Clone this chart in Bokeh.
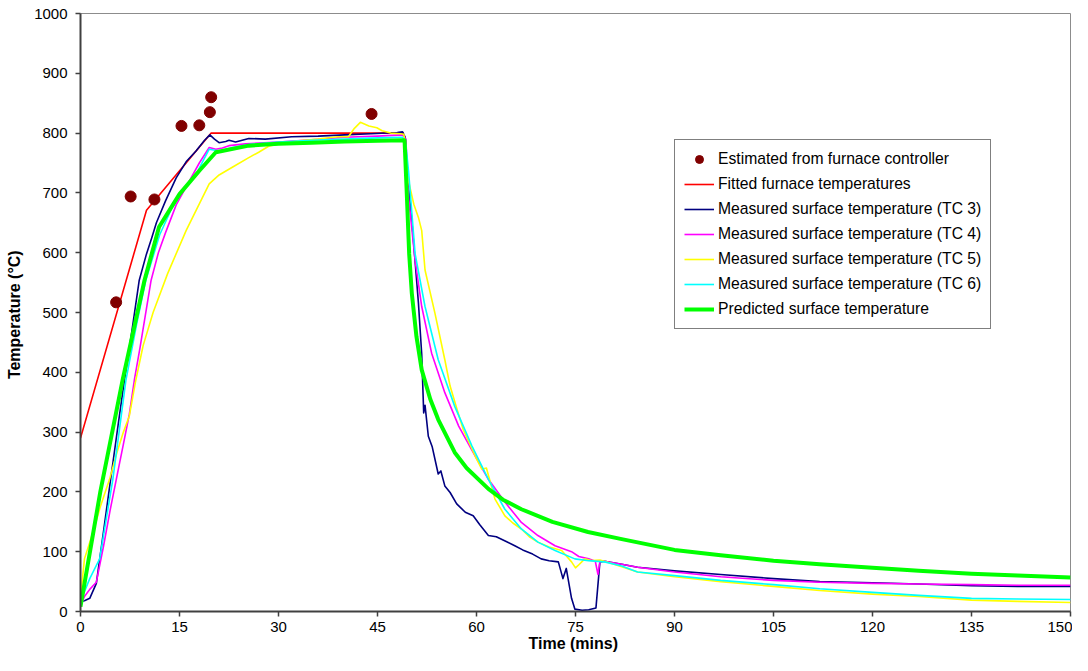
from bokeh.plotting import figure
from bokeh.models import Range1d, FixedTicker, Legend, LegendItem
from bokeh.embed import file_html
from bokeh.resources import INLINE

# ---------------- data ----------------
est_t = [5.4, 7.6, 11.2, 15.3, 18.0, 19.6, 19.8, 44.1]
est_T = [517, 694, 689, 812, 813, 835, 860, 832]

fit_t = [0, 10, 19.8, 49]
fit_T = [290, 671, 800, 800]

tc3_t = [0, 0.6, 1.4, 2.4, 3.5, 4.7, 5.9, 6.7, 7.8, 8.9, 10, 10.8, 11.5, 12.9, 14.5, 16, 17.5,
         18.8, 19.6, 20.3, 21, 22, 22.5, 23.5, 25.5, 28, 32, 36, 40, 44, 48, 48.8, 49.2,
         49.6, 50.2, 51.2, 51.7, 52.0, 52.2, 52.7, 53.3, 54.2, 54.6, 55.2, 56, 57, 58.3, 59.5,
         60.5, 61.8, 63, 64.5, 65.8, 67, 68.5, 69.8, 71, 72.4, 73.1, 73.6, 74.4, 74.9, 76, 77,
         78.1, 78.7, 79.4, 82, 84.4, 90, 97, 105, 112, 120, 127, 135, 142, 150]
tc3_T = [17, 18, 22, 47, 135, 232, 328, 390, 470, 554, 598, 625, 650, 687, 725, 752, 770,
         788, 797, 790, 784, 786, 788, 785, 791, 790, 794, 795, 797, 799, 801, 802, 793,
         720, 654, 516, 430, 332, 345, 293, 275, 230, 235, 210, 199, 180, 166, 160,
         145, 127, 125, 117, 110, 103, 96, 88, 85, 83, 55, 72, 22, 4, 2, 3,
         6, 83, 84, 79, 74, 68, 62, 55, 50, 48, 46, 43, 42, 42]

tc4_t = [0, 0.6, 1.4, 2.4, 3.5, 4.5, 5.5, 6.5, 7.4, 8.2, 9, 10.7, 11.8, 12.9, 14.5, 16.5, 18,
         19.5, 20.5, 21.5, 22.5, 25, 30, 35, 40, 45, 48.8, 49.3,
         49.7, 50.7, 51.7, 53.2, 55.2, 57.3, 59.8, 61.8, 64.3, 66.8, 69.3, 71.9, 74.4, 75.5,
         77, 78, 78.4, 78.7, 79.4, 82, 84.4, 90, 97, 105, 112, 120, 127, 135, 142, 150]
tc4_T = [11, 25, 37, 49, 110, 170, 225, 280, 330, 390, 440, 554, 600, 634, 680, 720, 750,
         776, 773, 775, 779, 782, 785, 789, 793, 795, 797, 790,
         693, 587, 510, 432, 366, 310, 260, 221, 183, 149, 127, 110, 100, 92,
         88, 84, 62, 84, 84, 79, 74, 66, 58, 52, 49, 47, 46, 45, 44, 44]

tc5_t = [0, 0.1, 0.6, 1.9, 3, 4.4, 5.5, 6.5, 7.4, 8.4, 9.5, 11, 13.2, 16, 19.5, 21, 23, 25.5,
         27, 28.5, 30, 33, 36, 39, 40.6, 41.5, 42.4, 43.7, 44.9, 45.7, 47, 48.5, 49,
         49.3, 49.7, 50.5, 51.2, 51.7, 52.2, 53.7, 55.2, 56, 57, 58, 59.8, 60.8, 61.5, 62.8,
         64.3, 65.5, 66.8, 68, 69.3, 71, 72.9, 74.4, 75, 75.4, 76.4, 77.5, 78.7, 80, 82, 84.4,
         90, 97, 105, 112, 120, 127, 135, 142, 150]
tc5_T = [20, 33, 88, 133, 175, 221, 265, 300, 327, 388, 445, 500, 565, 637, 715, 730, 743, 759,
         768, 778, 782, 787, 790, 794, 794, 808, 818, 812, 809, 804, 800, 799, 798,
         760, 720, 681, 659, 637, 571, 499, 421, 377, 340, 304, 260, 238, 240, 188,
         160, 148, 138, 125, 116, 108, 102, 83, 73, 77, 88, 85, 86, 82, 75, 66,
         58, 50, 42, 35, 29, 25, 19, 17, 15]

tc6_t = [0, 1.4, 2.9, 4.9, 6.9, 8.5, 9.9, 12, 13.9, 15.5, 17.5, 19.5, 21, 23, 25.5, 30, 35, 40,
         45, 48.8, 49.3, 49.7, 50.7, 52.2, 54.2, 56.7, 59.3, 61.8, 64.3, 66.8, 69.3, 71.9,
         74.9, 77, 79.4, 82, 84.4, 90, 97, 105, 112, 120, 127, 135, 142, 150]
tc6_T = [17, 55, 88, 221, 388, 480, 554, 630, 676, 705, 731, 773, 770, 776, 781, 785, 788, 790,
         792, 793, 780, 737, 598, 510, 421, 343, 277, 221, 171, 138, 116, 102,
         88, 85, 83, 76, 66, 60, 52, 45, 38, 32, 27, 22, 21, 20]

pred_t = [0, 3, 6.4, 9.7, 11.9, 15, 18, 20.5, 25.5, 30, 35, 40, 45, 49.1, 49.4, 49.8, 50.2,
          50.9, 51.7, 53, 54.2, 56.7, 58.5, 61.8, 64, 66.8, 71.5, 76.9, 82, 90, 97, 105, 112,
          120, 127, 135, 142, 150]
pred_T = [8, 200, 388, 554, 643, 698, 737, 768, 779, 782, 784, 786, 787, 788, 709, 598, 532,
          460, 404, 355, 321, 266, 240, 205, 187, 171, 150, 133, 121, 103, 94, 85, 79,
          73, 68, 63, 60, 57]

x_ticks = [0, 15, 30, 45, 60, 75, 90, 105, 120, 135, 150]
y_ticks = [0, 100, 200, 300, 400, 500, 600, 700, 800, 900, 1000]

labels = ["Estimated from furnace controller", "Fitted furnace temperatures",
          "Measured surface temperature (TC 3)", "Measured surface temperature (TC 4)",
          "Measured surface temperature (TC 5)", "Measured surface temperature (TC 6)",
          "Predicted surface temperature"]

FONT = "Liberation Sans"

p = figure(width=1072, height=655, output_backend="svg", toolbar_location=None,
           x_range=Range1d(0, 150), y_range=Range1d(0, 1000),
           min_border_left=80, min_border_right=2, min_border_top=13, min_border_bottom=44)
p.grid.visible = False
p.outline_line_color = "#8c8c8c"
p.outline_line_width = 1
p.background_fill_color = "white"
p.border_fill_color = "white"

r_fit = p.line(fit_t, fit_T, line_color="#ff0000", line_width=1.6)
r3 = p.line(tc3_t, tc3_T, line_color="#000080", line_width=1.6, line_join="round")
r4 = p.line(tc4_t, tc4_T, line_color="#ff00ff", line_width=1.6, line_join="round")
r5 = p.line(tc5_t, tc5_T, line_color="#ffff00", line_width=1.6, line_join="round")
r6 = p.line(tc6_t, tc6_T, line_color="#00ffff", line_width=1.6, line_join="round")
rp = p.line(pred_t, pred_T, line_color="#00ff00", line_width=4, line_join="round")
r_est = p.scatter(est_t, est_T, size=11, fill_color="#800000", line_color="#800000")

for ax in (p.xaxis[0], p.yaxis[0]):
    ax.axis_line_color = "#404040"
    ax.axis_line_width = 2
    ax.major_tick_line_color = "#404040"
    ax.major_tick_line_width = 1.5
    ax.major_tick_out = 5
    ax.major_tick_in = 0
    ax.minor_tick_line_color = None
    ax.major_label_text_font = FONT
    ax.major_label_text_font_size = "15px"
    ax.major_label_text_color = "black"
    ax.axis_label_text_font = FONT
    ax.axis_label_text_font_size = "16px"
    ax.axis_label_text_font_style = "bold"
    ax.axis_label_text_color = "black"

p.xaxis.ticker = FixedTicker(ticks=x_ticks)
p.yaxis.ticker = FixedTicker(ticks=y_ticks)
p.xaxis.axis_label = "Time  (mins)"
p.yaxis.axis_label = "Temperature  (°C)"
p.xaxis.major_label_standoff = 5
p.yaxis.major_label_standoff = 8
p.xaxis.axis_label_standoff = 0
p.yaxis.axis_label_standoff = 8

items = [LegendItem(label=lab, renderers=[r]) for lab, r in
         zip(labels, [r_est, r_fit, r3, r4, r5, r6, rp])]
legend = Legend(items=items, location=(594, 282), orientation="vertical",
                label_text_font=FONT, label_text_font_size="15.7px", label_text_color="black",
                glyph_width=30, glyph_height=20, label_height=20, label_standoff=4,
                spacing=5, padding=9, margin=0,
                border_line_color="black", border_line_width=1,
                background_fill_color="white", background_fill_alpha=1)
p.add_layout(legend)

open("out.html", "w").write(file_html(p, INLINE))
